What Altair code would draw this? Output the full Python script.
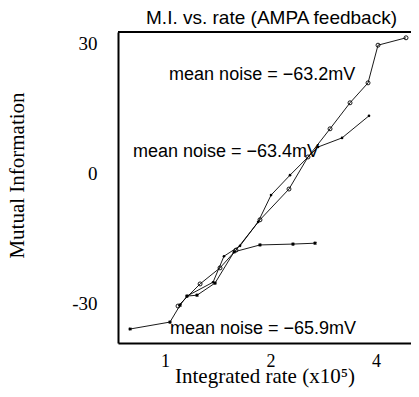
import altair as alt
import pandas as pd

# Series (x: integrated rate x10^5, y: mutual information)
rate_a = [1.089, 1.259, 1.435, 1.594, 1.866, 2.258, 2.558, 2.957, 3.372, 3.796, 4.053, 4.872]
mi_a = [-30.7, -25.6, -21.9, -17.8, -10.8, -3.7, 3.7, 10.2, 16.2, 20.8, 29.5, 31.2]
rate_b = [1.155, 1.371, 1.473, 1.637, 1.843, 2.007, 2.273, 2.733, 3.200, 3.820]
mi_b = [-28.4, -25.2, -19.2, -16.8, -11.3, -5.1, -0.5, 6.0, 8.1, 13.2]
rate_c = [0.795, 1.033, 1.104, 1.155, 1.234, 1.389, 1.574, 1.866, 2.318, 2.680]
mi_c = [-36.0, -34.4, -30.5, -28.4, -28.2, -25.4, -18.2, -16.6, -16.4, -16.2]
series_names = ["-63.2mV", "-63.4mV", "-65.9mV"]

labels = ["mean noise = \u221263.2mV", "mean noise = \u221263.4mV", "mean noise = \u221265.9mV"]
label_x = [1.027, 0.810, 1.033]
label_y = [22.6, 4.85, -36.0]

x_ticks = [1, 2, 4]
y_ticks = [-30, 0, 30]
x_domain = [0.7341, 5.034]
y_domain = [-39.23, 32.54]

rows = []
for name, xs, ys in zip(series_names, [rate_a, rate_b, rate_c], [mi_a, mi_b, mi_c]):
    for i, (xv, yv) in enumerate(zip(xs, ys)):
        rows.append({"series": name, "i": i, "rate": xv, "mi": yv})
df = pd.DataFrame(rows)
lab = pd.DataFrame({"text": labels, "rate": label_x, "mi": label_y})

W, H = 293, 311

x_enc = alt.X("rate:Q", scale=alt.Scale(type="log", domain=x_domain, nice=False, zero=False),
              axis=alt.Axis(values=x_ticks, format="d", title="Integrated rate (x10\u2075)",
                            grid=False, ticks=False, domain=True, domainColor="black", domainWidth=2,
                            labelFont="Liberation Serif", labelFontSize=18, labelColor="black",
                            labelPadding=9, titleFont="Liberation Serif", titleFontSize=21,
                            titleFontWeight="normal", titleColor="black",
                            titleBaseline="alphabetic", titleY=39, labelFlush=False))
y_enc = alt.Y("mi:Q", scale=alt.Scale(domain=y_domain, nice=False, zero=False),
              axis=alt.Axis(values=y_ticks, title="Mutual Information",
                            labelExpr="datum.value < 0 ? '-' + abs(datum.value) : '' + datum.value",
                            grid=False, ticks=False, domain=True, domainColor="black", domainWidth=2,
                            labelFont="Liberation Serif", labelFontSize=19, labelColor="black",
                            labelPadding=21, titleFont="Liberation Serif", titleFontSize=21,
                            titleFontWeight="normal", titleColor="black", titleAngle=-90,
                            titleBaseline="alphabetic", titleX=-95, titleY=143, titleAlign="center"))

base = alt.Chart(df)
lines = base.mark_line(color="black", strokeWidth=0.9).encode(
    x=x_enc, y=y_enc, detail="series:N", order="i:Q")

pts_a = base.transform_filter(alt.datum.series == "-63.2mV").mark_point(
    shape="circle", filled=False, color="black", size=16, strokeWidth=0.9, opacity=1
).encode(x="rate:Q", y="mi:Q")
pts_b = base.transform_filter(alt.datum.series == "-63.4mV").mark_point(
    shape="circle", filled=True, color="black", size=7, opacity=1
).encode(x="rate:Q", y="mi:Q")
pts_c = base.transform_filter(alt.datum.series == "-65.9mV").mark_point(
    shape="cross", filled=True, color="black", size=14, angle=45, opacity=1
).encode(x="rate:Q", y="mi:Q")

texts = alt.Chart(lab).mark_text(
    align="left", baseline="middle", font="Liberation Sans", fontSize=18, color="black"
).encode(x="rate:Q", y="mi:Q", text="text:N")

top_border = alt.Chart(lab).mark_rule(color="black", strokeWidth=2).encode(
    x=alt.value(0), x2=alt.value(W), y=alt.value(0))

chart = alt.layer(lines, pts_a, pts_b, pts_c, texts, top_border).properties(
    width=W, height=H,
    title=alt.TitleParams("M.I. vs. rate (AMPA feedback)", font="Liberation Sans", fontSize=19,
                          fontWeight="normal", color="black", anchor="middle", dx=7,
                          frame="group", offset=3),
    autosize=alt.AutoSizeParams(type="none"),
    padding={"left": 110, "top": 24, "right": 0, "bottom": 46},
).configure_view(stroke=None).configure(background="white")

chart.save("out.html", embed_options={"renderer": "svg", "actions": False})
